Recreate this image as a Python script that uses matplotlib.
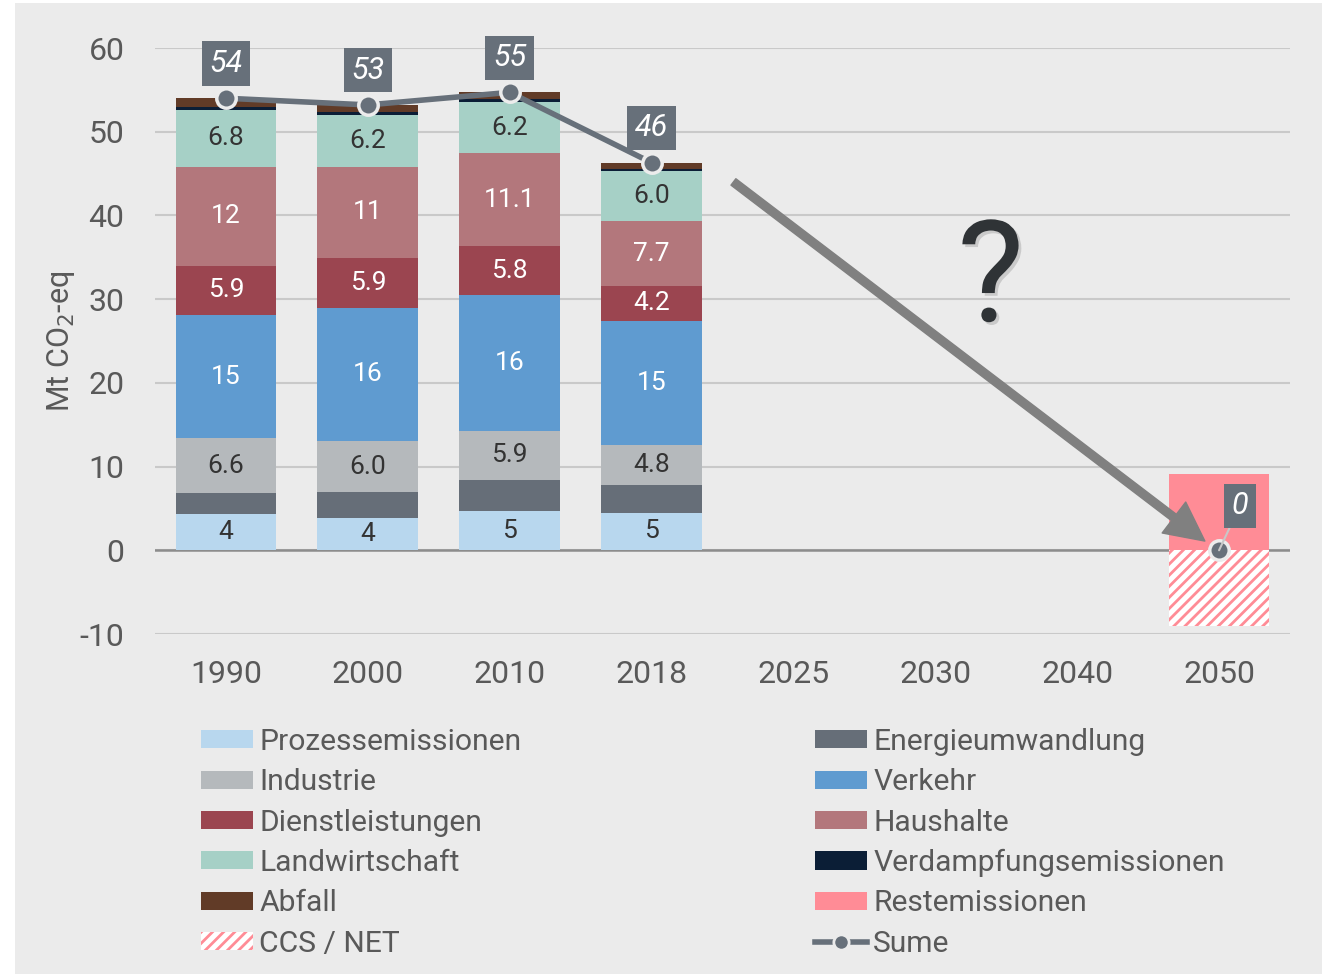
import matplotlib.pyplot as plt
import numpy as np
from matplotlib.patches import Patch, Rectangle
from matplotlib.lines import Line2D
import matplotlib.patheffects as pe

plt.rcParams['font.family'] = ['Roboto', 'DejaVu Sans']
plt.rcParams['hatch.linewidth'] = 2.0
plt.rcParams['axes.unicode_minus'] = False

# Daten (Mt CO2-eq)
jahre = ['1990', '2000', '2010', '2018', '2025', '2030', '2040', '2050']
prozess = [4.3, 3.9, 4.7, 4.5, 0, 0, 0, 0]
energie = [2.5, 3.1, 3.7, 3.3, 0, 0, 0, 0]
industrie = [6.6, 6.0, 5.9, 4.8, 0, 0, 0, 0]
verkehr = [14.7, 16.0, 16.2, 14.8, 0, 0, 0, 0]
dienst = [5.9, 5.9, 5.8, 4.2, 0, 0, 0, 0]
haushalte = [11.8, 10.9, 11.1, 7.7, 0, 0, 0, 0]
landw = [6.8, 6.2, 6.2, 6.0, 0, 0, 0, 0]
verdampf = [0.4, 0.4, 0.3, 0.3, 0, 0, 0, 0]
abfall = [1.0, 0.8, 0.8, 0.7, 0, 0, 0, 0]
rest = [0, 0, 0, 0, 0, 0, 0, 9.1]
ccs = [0, 0, 0, 0, 0, 0, 0, -9.1]

prozess_lbl = ['4', '4', '5', '5']
industrie_lbl = ['6.6', '6.0', '5.9', '4.8']
verkehr_lbl = ['15', '16', '16', '15']
dienst_lbl = ['5.9', '5.9', '5.8', '4.2']
haushalte_lbl = ['12', '11', '11.1', '7.7']
landw_lbl = ['6.8', '6.2', '6.2', '6.0']

# (name, werte, farbe, labels, labelfarbe) von unten nach oben
serien = [
    ('Prozessemissionen', prozess, '#b8d7ee', prozess_lbl, '#333333'),
    ('Energieumwandlung', energie, '#666e78', None, None),
    ('Industrie', industrie, '#b5b9bc', industrie_lbl, '#333333'),
    ('Verkehr', verkehr, '#5f9bd0', verkehr_lbl, 'white'),
    ('Dienstleistungen', dienst, '#9b4550', dienst_lbl, 'white'),
    ('Haushalte', haushalte, '#b3777c', haushalte_lbl, 'white'),
    ('Landwirtschaft', landw, '#a6d0c6', landw_lbl, '#333333'),
    ('Verdampfungsemissionen', verdampf, '#0b1e36', None, None),
    ('Abfall', abfall, '#613b27', None, None),
]

bg = '#ebebeb'
txt = '#595959'
sum_col = '#67707a'

fig = plt.figure(figsize=(13.3, 9.74), dpi=100, facecolor='white')
fig.patches.append(Rectangle((15 / 1330, 0), 1307 / 1330, 971 / 974,
                             transform=fig.transFigure, facecolor=bg,
                             edgecolor='none', zorder=-10))
ax = fig.add_axes([155 / 1330, 1 - 634 / 974, 1135 / 1330, 586 / 974])
ax.set_facecolor('none')

x = np.arange(len(jahre))
breite = 0.71
unten = np.zeros(len(jahre))
handles = {}
for name, werte, farbe, lbls, lcol in serien:
    werte = np.array(werte, dtype=float)
    bars = ax.bar(x, werte, breite, bottom=unten, color=farbe, zorder=3)
    handles[name] = Patch(facecolor=farbe)
    if lbls is not None:
        ax.bar_label(bars, labels=lbls + [''] * (len(jahre) - len(lbls)),
                     label_type='center', color=lcol, fontsize=19)
    unten = unten + werte

ax.bar(x, rest, breite, color='#ff8c96', zorder=3)
ax.bar(x, ccs, breite, facecolor='white', edgecolor='#ff8c96',
       hatch='///', linewidth=0, zorder=3)
handles['Restemissionen'] = Patch(facecolor='#ff8c96')
handles['CCS / NET'] = Patch(facecolor='white', edgecolor='#ff8c96',
                             hatch='///', linewidth=0)

# Summe
summe = unten + np.array(rest) + np.array(ccs)
summe[4:7] = np.nan
ax.plot(x, summe, color=sum_col, lw=4, marker='o', ms=14, mfc=sum_col,
        mec='#ececec', mew=2.5, zorder=6, solid_capstyle='round')
box = dict(boxstyle='square,pad=0.25', fc=sum_col, ec='none')
for i in [0, 1, 2, 3]:
    ax.annotate(f'{round(summe[i]):d}', (x[i], summe[i]), xytext=(0, 25),
                textcoords='offset points', ha='center', va='center',
                color='white', style='italic', fontsize=22, zorder=7,
                bbox=box)
ax.annotate(f'{round(summe[7]):d}', (x[7], summe[7]), xytext=(15, 32),
            textcoords='offset points', ha='center', va='center',
            color='white', style='italic', fontsize=22, zorder=7,
            bbox=box,
            arrowprops=dict(arrowstyle='-', color='#c8c8c8', lw=1.5,
                            shrinkA=0, shrinkB=0))

# Pfeil und Fragezeichen
ax.annotate('', xy=(6.90, 1.1), xytext=(3.577, 44.0),
            arrowprops=dict(arrowstyle='simple,head_length=1.4,head_width=1.4,tail_width=0.29',
                            color='#808080', mutation_scale=20,
                            shrinkA=0, shrinkB=0), zorder=4)
ax.text(5.39, 32.0, '?', fontsize=102, color='#2f3336', ha='center',
        va='center', zorder=4,
        path_effects=[pe.withSimplePatchShadow(offset=(2, -2), alpha=0.15)])

# Achsen
ax.set_xlim(-0.5, 7.5)
ax.set_ylim(-10, 60)
ax.set_yticks(range(-10, 61, 10))
ax.set_xticks(x)
ax.set_xticklabels(jahre)
ax.tick_params(axis='both', length=0, labelsize=23, labelcolor=txt)
ax.tick_params(axis='x', pad=19)
ax.tick_params(axis='y', pad=22)
for s in ax.spines.values():
    s.set_visible(False)
ax.grid(axis='y', color='#c9c9c9', lw=1.5, zorder=0)
ax.axhline(0, color='#8c8c8c', lw=1.8, zorder=2)
ax.set_ylabel('Mt CO$_2$-eq', fontsize=22, color=txt,
              family=['Liberation Sans Narrow', 'Roboto'])
ax.yaxis.set_label_coords(-0.069, 0.5)

# Legende in zwei Spalten
links = ['Prozessemissionen', 'Industrie', 'Dienstleistungen',
         'Landwirtschaft', 'Abfall', 'CCS / NET']
rechts = ['Energieumwandlung', 'Verkehr', 'Haushalte',
          'Verdampfungsemissionen', 'Restemissionen']
handles['Sume'] = Line2D([], [], color=sum_col, lw=4, marker='o', ms=11,
                         mfc=sum_col, mec=bg, mew=2)
rechts.append('Sume')
leg_kw = dict(loc='upper left', frameon=False, fontsize=21.6, labelcolor=txt,
              handlelength=1.74, handleheight=0.55, handletextpad=0.2,
              labelspacing=0.41, borderpad=0, borderaxespad=0)
leg1 = fig.legend([handles[n] for n in links], links,
                  bbox_to_anchor=(201 / 1330, 1 - 728 / 974), **leg_kw)
leg2 = fig.legend([handles[n] for n in rechts], rechts,
                  bbox_to_anchor=(815 / 1330, 1 - 728 / 974), **leg_kw)

fig.savefig('out.png', dpi=100, facecolor='white')
